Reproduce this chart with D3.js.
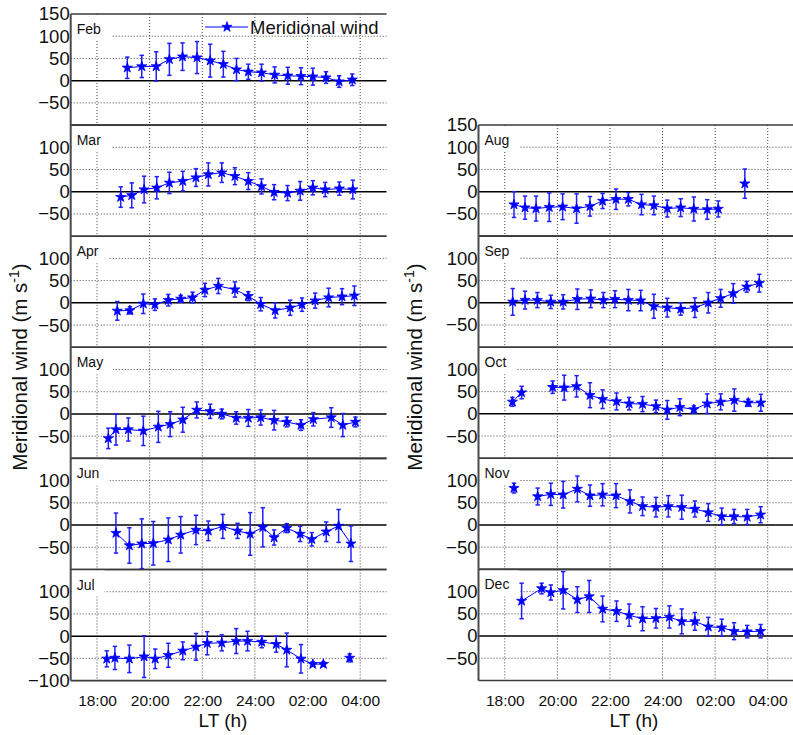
<!DOCTYPE html>
<html>
<head>
<meta charset="utf-8">
<script src="https://cdn.jsdelivr.net/npm/d3@7"></script>
<style>
  body { margin: 0; background: #fff; }
  svg { display: block; font-family: "Liberation Sans", Arial, sans-serif; }
</style>
</head>
<body>
<div id="chart"></div>
<script>
// local time (h, 24+ = after midnight), meridional wind and error (m/s); null = gap in line
const ltFeb = [19.15, 19.7, 20.25, 20.75, 21.25, 21.8, 22.3, 22.8, 23.3, 23.75, 24.25, 24.75, 25.25, 25.75, 26.2, 26.7, 27.2, 27.7];
const vFeb  = [29, 32, 32, 48, 54, 52, 45, 37, 25, 20, 18, 13, 11, 10, 9, 7, -2, 2];
const eFeb  = [24, 25, 33, 36, 31, 36, 37, 29, 25, 17, 19, 18, 19, 19, 19, 13, 13, 13];

const ltMar = [18.9, 19.32, 19.79, 20.27, 20.75, 21.26, 21.76, 22.23, 22.74, 23.24, 23.75, 24.25, 24.73, 25.24, 25.72, 26.2, 26.67, 27.21, 27.72];
const vMar  = [-12, -8, 5, 9, 20, 24, 32, 39, 43, 35, 24, 12, -1, -3, 2, 9, 5, 7, 5];
const eMar  = [23, 28, 30, 25, 24, 22, 20, 26, 22, 19, 19, 17, 17, 17, 21, 16, 16, 15, 21];

const ltApr = [18.77, 19.25, 19.76, 20.2, 20.71, 21.18, 21.63, 22.1, 22.61, 23.24, 23.75, 24.22, 24.77, 25.34, 25.79, 26.29, 26.8, 27.31, 27.78];
const vApr  = [-18, -17, -2, -4, 6, 9, 12, 29, 38, 30, 15, -3, -17, -11, -4, 5, 12, 14, 16];
const eApr  = [21, 8, 22, 13, 13, 8, 12, 15, 17, 17, 10, 15, 17, 17, 15, 17, 21, 18, 22];

const ltMay = [18.43, 18.72, 19.19, 19.76, 20.33, 20.78, 21.26, 21.79, 22.3, 22.74, 23.29, 23.75, 24.22, 24.73, 25.21, 25.75, 26.22, 26.9, 27.34, 27.82];
const vMay  = [-55, -35, -35, -38, -29, -23, -13, 9, 6, 0, -9, -9, -8, -14, -18, -25, -12, -8, -25, -18];
const eMay  = [23, 35, 26, 33, 35, 28, 28, 18, 16, 11, 14, 19, 17, 22, 11, 12, 15, 22, 26, 11];

const ltJun = [18.72, 19.23, 19.7, 20.14, 20.71, 21.18, 21.76, 22.23, 22.78, 23.34, 23.82, 24.3, 24.73, 25.21, 25.72, 26.16, 26.71, 27.18, 27.65];
const vJun  = [-18, -46, -42, -41, -33, -22, -11, -13, -3, -13, -20, -5, -28, -7, -20, -32, -15, -2, -42];
const eJun  = [45, 40, 56, 49, 49, 41, 33, 22, 27, 17, 48, 44, 17, 10, 17, 15, 22, 37, 40];

const ltJul = [18.37, 18.68, 19.23, 19.79, 20.21, 20.71, 21.26, 21.76, 22.19, 22.74, 23.29, 23.72, 24.26, 24.81, 25.21, 25.75, 26.2, 26.6, null, 27.6];
const vJul  = [-51, -49, -51, -46, -51, -43, -33, -24, -16, -15, -11, -11, -13, -18, -31, -51, -63, -63, null, -49];
const eJul  = [18, 26, 31, 47, 22, 27, 20, 30, 26, 18, 28, 22, 13, 18, 38, 32, 5, 5, null, 9];

const ltAug = [18.35, 18.77, 19.19, 19.69, 20.2, 20.73, 21.24, 21.72, 22.23, 22.7, 23.2, 23.67, 24.18, 24.69, 25.19, 25.7, 26.12, null, 27.13];
const vAug  = [-29, -36, -38, -35, -34, -38, -33, -21, -17, -17, -29, -31, -38, -36, -39, -40, -39, null, 18];
const eAug  = [29, 26, 28, 32, 29, 33, 22, 17, 23, 15, 23, 21, 19, 20, 27, 22, 18, null, 33];

const ltSep = [18.3, 18.77, 19.24, 19.75, 20.22, 20.76, 21.27, 21.75, 22.19, 22.7, 23.17, 23.67, 24.18, 24.69, 25.23, 25.74, 26.21, 26.69, 27.2, 27.68];
const vSep  = [2, 6, 6, 2, 2, 8, 9, 6, 8, 6, 5, -8, -11, -14, -11, 0, 10, 21, 36, 44];
const eSep  = [30, 20, 17, 15, 16, 23, 20, 17, 19, 24, 23, 27, 21, 14, 22, 23, 20, 22, 12, 20];

const ltOct = [18.29, 18.64, null, 19.82, 20.26, 20.73, 21.24, 21.72, 22.25, 22.73, 23.24, 23.75, 24.18, 24.66, 25.19, 25.7, 26.21, 26.73, 27.26, 27.74];
const vOct  = [27, 48, null, 60, 59, 62, 42, 33, 28, 23, 22, 17, 9, 15, 10, 23, 27, 31, 25, 25];
const eOct  = [10, 14, null, 14, 28, 24, 28, 21, 19, 14, 17, 14, 21, 19, 8, 22, 18, 25, 8, 19];

const ltNov = [18.35, null, 19.25, 19.75, 20.22, 20.76, 21.24, 21.72, 22.23, 22.76, 23.24, 23.75, 24.22, 24.73, 25.23, 25.74, 26.25, 26.72, 27.22, 27.73];
const vNov  = [83, null, 64, 69, 68, 81, 66, 68, 66, 53, 42, 40, 42, 40, 36, 28, 19, 19, 18, 23];
const eNov  = [11, null, 19, 25, 30, 29, 24, 25, 27, 26, 21, 22, 24, 27, 18, 20, 19, 16, 17, 18];

const ltDec = [18.64, 19.4, 19.75, 20.22, 20.76, 21.21, 21.72, 22.25, 22.73, 23.24, 23.75, 24.26, 24.73, 25.23, 25.74, 26.25, 26.72, 27.22, 27.73];
const vDec  = [79, 107, 98, 103, 82, 89, 61, 56, 47, 39, 40, 43, 33, 33, 21, 19, 11, 10, 11];
const eDec  = [40, 12, 17, 42, 29, 36, 29, 23, 25, 27, 22, 25, 28, 20, 21, 19, 19, 14, 15];

const xTicks = [18, 20, 22, 24, 26, 28];
const xTickLabels = ["18:00", "20:00", "22:00", "24:00", "02:00", "04:00"];
const yGrid = [100, 50, -50];
const yTicksTop = [150, 100, 50, 0, -50];
const yTicksMid = [100, 50, 0, -50];
const yTicksBottom = [100, 50, 0, -50, -100];

const panels = [
    { name: "Feb", lt: ltFeb, v: vFeb, e: eFeb, col: 0, row: 0, ticks: yTicksTop },
    { name: "Mar", lt: ltMar, v: vMar, e: eMar, col: 0, row: 1, ticks: yTicksMid },
    { name: "Apr", lt: ltApr, v: vApr, e: eApr, col: 0, row: 2, ticks: yTicksMid },
    { name: "May", lt: ltMay, v: vMay, e: eMay, col: 0, row: 3, ticks: yTicksMid },
    { name: "Jun", lt: ltJun, v: vJun, e: eJun, col: 0, row: 4, ticks: yTicksMid },
    { name: "Jul", lt: ltJul, v: vJul, e: eJul, col: 0, row: 5, ticks: yTicksBottom },
    { name: "Aug", lt: ltAug, v: vAug, e: eAug, col: 1, row: 0, ticks: yTicksTop },
    { name: "Sep", lt: ltSep, v: vSep, e: eSep, col: 1, row: 1, ticks: yTicksMid },
    { name: "Oct", lt: ltOct, v: vOct, e: eOct, col: 1, row: 2, ticks: yTicksMid },
    { name: "Nov", lt: ltNov, v: vNov, e: eNov, col: 1, row: 3, ticks: yTicksMid },
    { name: "Dec", lt: ltDec, v: vDec, e: eDec, col: 1, row: 4, ticks: yTicksMid }
];

const width = 793, height = 735;
const panelH = 111.1;
const blue = "#0000ff";
const font = "Liberation Sans, Arial, sans-serif";
const columns = [
    { x: d3.scaleLinear().domain([17, 29]).range([70.7, 386.5]), top: 14, rows: 6, titleX: 20, ltX: 223 },
    { x: d3.scaleLinear().domain([17, 29]).range([478.5, 794]), top: 125, rows: 5, titleX: 415, ltX: 634 }
];

const svg = d3.select("#chart").append("svg")
    .attr("width", width).attr("height", height);

const star = d3.symbol(d3.symbolStar).size(32);

panels.forEach(p => {
    const c = columns[p.col];
    const x = c.x;
    const top = c.top + p.row * panelH;
    const y = d3.scaleLinear().domain([-100, 150]).range([top + panelH, top]);
    const [x0, x1] = x.range();
    const g = svg.append("g");

    // dotted grid
    g.selectAll(".hg").data(yGrid).enter().append("line")
        .attr("x1", x0).attr("x2", x1)
        .attr("y1", d => y(d)).attr("y2", d => y(d))
        .attr("stroke", "#444").attr("stroke-width", 1)
        .attr("stroke-dasharray", "1,2");
    g.selectAll(".vg").data(xTicks).enter().append("line")
        .attr("x1", d => x(d)).attr("x2", d => x(d))
        .attr("y1", top).attr("y2", top + panelH)
        .attr("stroke", "#444").attr("stroke-width", 1)
        .attr("stroke-dasharray", "1,2");

    // zero line + panel borders
    g.append("line").attr("x1", x0).attr("x2", x1)
        .attr("y1", y(0)).attr("y2", y(0))
        .attr("stroke", "#000").attr("stroke-width", 1.5);
    [150, -100].forEach(b => {
        g.append("line").attr("x1", x0).attr("x2", x1)
            .attr("y1", y(b)).attr("y2", y(b))
            .attr("stroke", "#3a3a3a").attr("stroke-width", 1.6);
    });

    // month label on white box
    const lbl = g.append("text")
        .attr("x", x0 + 6).attr("y", top + 20)
        .attr("font-size", 14).attr("fill", "#111")
        .text(p.name);
    const bb = lbl.node().getBBox();
    g.insert("rect", "text")
        .attr("x", x0 + 1).attr("y", top + 1)
        .attr("width", bb.x + bb.width + 9 - x0).attr("height", 26)
        .attr("fill", "#fff");

    // data
    const pts = p.lt.map((t, i) => ({ t: t, v: p.v[i], e: p.e[i] }));
    const ok = pts.filter(d => d.v != null);

    const eb = g.append("g").attr("stroke", "#1f1fff").attr("stroke-width", 1.5);
    ok.forEach(d => {
        const cx = x(d.t);
        eb.append("line").attr("x1", cx).attr("x2", cx)
            .attr("y1", y(d.v + d.e)).attr("y2", y(d.v - d.e));
        [d.v + d.e, d.v - d.e].forEach(yy => {
            eb.append("line").attr("x1", cx - 2.2).attr("x2", cx + 2.2)
                .attr("y1", y(yy)).attr("y2", y(yy));
        });
    });

    g.append("path").datum(pts)
        .attr("fill", "none").attr("stroke", blue).attr("stroke-width", 1)
        .attr("d", d3.line().defined(d => d.v != null).x(d => x(d.t)).y(d => y(d.v)));

    g.selectAll(".pt").data(ok).enter().append("path")
        .attr("d", star)
        .attr("transform", d => `translate(${x(d.t)},${y(d.v)})`)
        .attr("fill", blue).attr("stroke", blue).attr("stroke-width", 0.8);

    // y tick labels
    const ya = g.append("g").attr("transform", `translate(${x0},0)`)
        .call(d3.axisLeft(y).tickValues(p.ticks).tickSize(0).tickPadding(1));
    ya.select(".domain").remove();
    ya.selectAll("text").attr("font-size", 18.5).attr("fill", "#111")
        .attr("font-family", font);
});

columns.forEach(c => {
    const [x0] = c.x.range();
    const bottom = c.top + c.rows * panelH;

    // left axis line for the whole column
    svg.append("line").attr("x1", x0).attr("x2", x0)
        .attr("y1", c.top).attr("y2", bottom)
        .attr("stroke", "#4a4a4a").attr("stroke-width", 2);

    const xa = svg.append("g").attr("transform", `translate(0,${bottom + 11})`)
        .call(d3.axisBottom(c.x).tickValues(xTicks).tickSize(0)
            .tickFormat((d, i) => xTickLabels[i]));
    xa.select(".domain").remove();
    xa.selectAll("text").attr("font-size", 15.5).attr("fill", "#111")
        .attr("font-family", font);

    svg.append("text")
        .attr("x", c.ltX).attr("y", 727)
        .attr("text-anchor", "middle").attr("font-size", 19).attr("fill", "#111")
        .text("LT (h)");

    const yt = svg.append("text")
        .attr("transform", `translate(${c.titleX + 7},367) rotate(-90)`)
        .attr("text-anchor", "middle").attr("font-size", 20.5).attr("fill", "#111");
    yt.append("tspan").text("Meridional wind (m s");
    yt.append("tspan").attr("font-size", 14).attr("dy", -8).text("-1");
    yt.append("tspan").attr("dy", 8).text(")");
});

// legend in the Feb panel
const legY = 27;
svg.append("line").attr("x1", 205).attr("x2", 248)
    .attr("y1", legY).attr("y2", legY)
    .attr("stroke", blue).attr("stroke-width", 1);
svg.append("path").attr("d", star)
    .attr("transform", `translate(227,${legY})`)
    .attr("fill", blue).attr("stroke", blue).attr("stroke-width", 0.8);
svg.append("text").attr("x", 250).attr("y", legY + 6.5)
    .attr("font-size", 18.5).attr("fill", "#111")
    .text("Meridional wind");
</script>
</body>
</html>
